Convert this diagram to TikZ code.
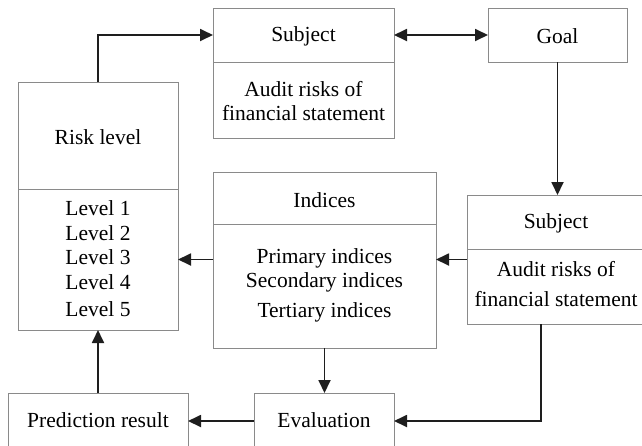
\documentclass[tikz,border=0pt]{standalone}
\usepackage{fontspec}
\setmainfont{Liberation Serif}
\usetikzlibrary{arrows.meta}
\definecolor{boxgray}{HTML}{8A8A8A}
\definecolor{arrowcol}{HTML}{1E1E1E}
\begin{document}
\begin{tikzpicture}[x=1pt,y=-1pt,
  box/.style={draw=boxgray,line width=1pt,inner sep=0pt,outer sep=0pt,anchor=north west},
  txt/.style={inner sep=0pt,font=\fontsize{21.5}{25}\selectfont,text=black},
  tip/.tip={Triangle[length=13pt,width=12pt]},
  arr/.style={draw=arrowcol,line width=1.8pt,-tip},
  darr/.style={draw=arrowcol,line width=1.8pt,tip-tip}]
\useasboundingbox (0,0) rectangle (642,445);
% boxes
\node[box,minimum width=160pt,minimum height=107pt] (risktop) at (18,82) {};
\node[box,minimum width=160pt,minimum height=141pt] (riskbot) at (18,189) {};
\node[box,minimum width=181pt,minimum height=54pt] (subjtop) at (213,8) {};
\node[box,minimum width=181pt,minimum height=76pt] (subjbot) at (213,62) {};
\node[box,minimum width=139pt,minimum height=54pt] (goal) at (488,8) {};
\node[box,minimum width=180pt,minimum height=54pt] (subj2top) at (467,195) {};
\node[box,minimum width=180pt,minimum height=75pt] (subj2bot) at (467,249) {};
\node[box,minimum width=223pt,minimum height=52pt] (indtop) at (213,172) {};
\node[box,minimum width=223pt,minimum height=124pt] (indbot) at (213,224) {};
\node[box,minimum width=140pt,minimum height=56pt] (eval) at (254,393) {};
\node[box,minimum width=180pt,minimum height=56pt] (pred) at (8,393) {};
% texts
\node[txt] (t1) at (98,137) {Risk level};
\node[txt] (l1) at (98,208) {Level 1};
\node[txt] (l2) at (98,233) {Level 2};
\node[txt] (l3) at (98,257) {Level 3};
\node[txt] (l4) at (98,282) {Level 4};
\node[txt] (l5) at (98,309) {Level 5};
\node[txt] (t2) at (303.5,36) {Subject};
\node[txt] (t3) at (303.5,89) {Audit risks of};
\node[txt] (t4) at (303.5,113) {financial statement};
\node[txt] (t5) at (557.5,36) {Goal};
\node[txt] (t6) at (556,223) {Subject};
\node[txt] (t7) at (556,269) {Audit risks of};
\node[txt] (t8) at (556,299) {financial statement};
\node[txt] (t9) at (324.5,200) {Indices};
\node[txt] (t10) at (324.5,258) {Primary indices};
\node[txt] (t11) at (324.5,282) {Secondary indices};
\node[txt] (t12) at (324.5,312) {Tertiary indices};
\node[txt] (t13) at (324,420) {Evaluation};
\node[txt] (t14) at (98,420) {Prediction result};
% connectors
\draw[arr] (risktop.north) |- (subjtop.west);
\draw[darr] (subjtop.east) -- (goal.west);
\draw[arr] (goal.south) -- (goal.south |- subj2top.north);
\draw[arr] (subj2bot.west |- riskbot.east) -- (indbot.east |- riskbot.east);
\draw[arr] (indbot.west |- riskbot.east) -- (riskbot.east);
\draw[arr] (indbot.south) -- (indbot.south |- eval.north);
\draw[arr] (eval.west) -- (pred.east);
\draw[arr] (pred.north) -- (riskbot.south);
\draw[arr] ([xshift=-16pt]subj2bot.south) |- (eval.east);
\end{tikzpicture}
\end{document}
